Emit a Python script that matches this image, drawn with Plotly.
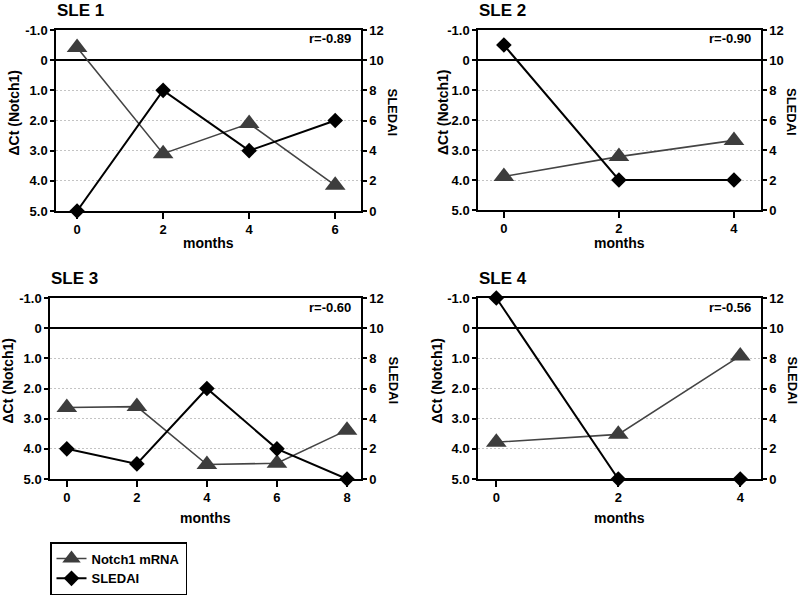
import plotly.graph_objects as go

# ---------------- data ----------------
months_1 = [0, 2, 4, 6]
notch_1 = [-0.42, 3.1, 2.1, 4.15]
sledai_1 = [0, 8, 4, 6]

months_2 = [0, 2, 4]
notch_2 = [3.88, 3.22, 2.68]
sledai_2 = [11, 2, 2]

months_3 = [0, 2, 4, 6, 8]
notch_3 = [2.63, 2.6, 4.52, 4.48, 3.38]
sledai_3 = [2, 1, 6, 2, 0]

months_4 = [0, 2, 4]
notch_4 = [3.78, 3.52, 0.92]
sledai_4 = [12, 0, 0]

titles = ["SLE 1", "SLE 2", "SLE 3", "SLE 4"]
r_labels = ["r=-0.89", "r=-0.90", "r=-0.60", "r=-0.56"]
left_ticks = [-1, 0, 1, 2, 3, 4, 5]
left_ticktext = ["-1.0", "0", "1.0", "2.0", "3.0", "4.0", "5.0"]
right_ticks = [0, 2, 4, 6, 8, 10, 12]

W, H = 800, 595
FONT = "Liberation Sans, Arial, Helvetica, sans-serif"

# pixel boxes of each plot area: (left, right, top, bottom) and x-range
panels = [
    dict(months=months_1, notch=notch_1, sledai=sledai_1, box=(56, 361, 30, 211), xr=[-0.49, 6.6], xt=[0, 2, 4, 6]),
    dict(months=months_2, notch=notch_2, sledai=sledai_2, box=(478, 761, 30, 210), xr=[-0.45, 4.47], xt=[0, 2, 4]),
    dict(months=months_3, notch=notch_3, sledai=sledai_3, box=(50, 361, 298, 479), xr=[-0.48, 8.4], xt=[0, 2, 4, 6, 8]),
    dict(months=months_4, notch=notch_4, sledai=sledai_4, box=(478, 761, 298, 479), xr=[-0.3, 4.34], xt=[0, 2, 4]),
]
left_title_x = [13, 443, 8, 437]
right_title_x = [392, 792, 393, 792]
months_y = [243, 243, 518, 518]


def px(x):
    return x / W


def py(y):
    return 1 - y / H


fig = go.Figure()
annotations = []
layout = {}

for i, p in enumerate(panels):
    n = i + 1
    l, r, t, b = p["box"]
    xa = f"xaxis{n if n > 1 else ''}"
    ya = f"yaxis{n if n > 1 else ''}"
    yb = f"yaxis{n + 4}"
    xref = f"x{n if n > 1 else ''}"
    yref = f"y{n if n > 1 else ''}"
    yref2 = f"y{n + 4}"

    layout[xa] = dict(
        domain=[px(l), px(r)], range=p["xr"], anchor=yref,
        tickvals=p["xt"], showgrid=False, zeroline=False,
        showline=True, mirror=True, linecolor="black", linewidth=1.5,
        ticks="outside", ticklen=6, tickwidth=1.5, tickcolor="black",
        tickfont=dict(family=FONT, size=13, color="black", weight="bold"),
    )
    layout[ya] = dict(
        domain=[py(b), py(t)], range=[5, -1], anchor=xref,
        tickvals=left_ticks, ticktext=left_ticktext,
        showgrid=True, gridcolor="#c4c4c4", griddash="2px,2px", gridwidth=1,
        zeroline=True, zerolinecolor="black", zerolinewidth=1.5,
        showline=True, linecolor="black", linewidth=1.5,
        ticks="outside", ticklen=4, tickwidth=1.5, tickcolor="black",
        tickfont=dict(family=FONT, size=13, color="black", weight="bold"),
    )
    layout[yb] = dict(
        range=[0, 12], overlaying=yref, side="right", anchor=xref,
        tickvals=right_ticks, showgrid=False, zeroline=False,
        showline=True, linecolor="black", linewidth=1.5,
        ticks="outside", ticklen=4, tickwidth=1.5, tickcolor="black",
        tickfont=dict(family=FONT, size=13, color="black", weight="bold"),
    )

    fig.add_trace(go.Scatter(
        x=p["months"], y=p["notch"], xaxis=xref, yaxis=yref,
        mode="lines+markers", name="Notch1 mRNA", showlegend=(i == 0),
        line=dict(color="#444444", width=1.6),
        marker=dict(symbol="triangle-up", size=18, color="#3d3d3d"),
        cliponaxis=False,
    ))
    fig.add_trace(go.Scatter(
        x=p["months"], y=p["sledai"], xaxis=xref, yaxis=yref2,
        mode="lines+markers", name="SLEDAI", showlegend=(i == 0),
        line=dict(color="black", width=2),
        marker=dict(symbol="diamond", size=12, color="black"),
        cliponaxis=False,
    ))

    cy = (t + b) / 2 - 8
    annotations += [
        dict(text=titles[i], x=px(l - 1), y=py(t - 20), xref="paper", yref="paper",
             xanchor="left", yanchor="middle", showarrow=False,
             font=dict(family=FONT, size=17, color="black", weight="bold")),
        dict(text=r_labels[i], x=px(r - 8), y=py(t + 9), xref="paper", yref="paper",
             xanchor="right", yanchor="middle", showarrow=False,
             font=dict(family=FONT, size=13, color="black", weight="bold")),
        dict(text="months", x=px((l + r) / 2), y=py(months_y[i]), xref="paper", yref="paper",
             xanchor="center", yanchor="middle", showarrow=False,
             font=dict(family=FONT, size=14, color="black", weight="bold")),
        dict(text="ΔCt (Notch1)", x=px(left_title_x[i]), y=py(cy), xref="paper", yref="paper",
             xanchor="center", yanchor="middle", showarrow=False, textangle=-90,
             font=dict(family=FONT, size=14, color="black", weight="bold")),
        dict(text="SLEDAI", x=px(right_title_x[i]), y=py(cy), xref="paper", yref="paper",
             xanchor="center", yanchor="middle", showarrow=False, textangle=90,
             font=dict(family=FONT, size=13, color="black", weight="bold")),
    ]

fig.update_layout(
    width=W, height=H, margin=dict(l=0, r=0, t=0, b=0, autoexpand=False),
    paper_bgcolor="white", plot_bgcolor="white",
    annotations=annotations,
    showlegend=True,
    legend=dict(
        x=px(50), y=py(542), xanchor="left", yanchor="top",
        bordercolor="black", borderwidth=1.5, bgcolor="white",
        font=dict(family=FONT, size=13, color="black", weight="bold"),
        itemwidth=30, tracegroupgap=0,
    ),
    **layout,
)

fig.write_html(
    "out.html",
    config={"displayModeBar": False},
    post_script="document.body.style.margin='0';document.body.style.overflow='hidden';",
)
